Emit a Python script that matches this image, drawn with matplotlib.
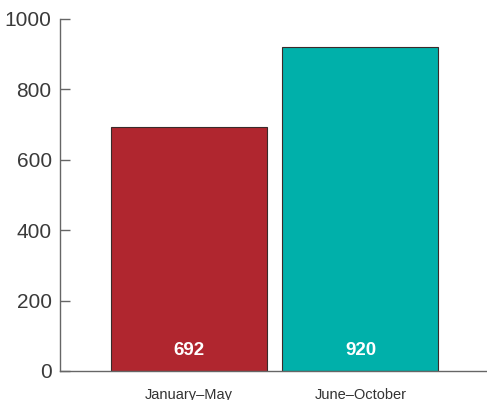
import matplotlib
matplotlib.use("Agg")
import matplotlib.pyplot as plt

categories = ["January–May", "June–October"]
values = [692, 920]
colors = ["#B0262F", "#00B0AA"]
yticks = [0, 200, 400, 600, 800, 1000]

plt.rcParams['font.family'] = ['Liberation Sans', 'DejaVu Sans']
fig = plt.figure(figsize=(4.87, 4.00), dpi=100)
ax = fig.add_axes([60/487, 29/400, 1 - 60/487, 352/400])

x = list(range(len(categories)))
bars = ax.bar(x, values, width=0.91, color=colors, edgecolor="#3a2a2a", linewidth=0.8, zorder=2)
for xi, v in zip(x, values):
    ax.text(xi, 57, f"{v}", ha="center", va="center", color="white",
            fontsize=13.5, fontweight="bold", zorder=3)

ax.set_xlim(-0.752, 1.738)
ax.set_ylim(0, 1000)
ax.set_yticks(yticks)
ax.set_yticklabels([str(t) for t in yticks], fontsize=15, color="#3a3a3a")
ax.tick_params(axis="y", direction="in", length=7, width=1, color="#666666", pad=6)
ax.set_xticks(x)
ax.set_xticklabels(categories, fontsize=10.5, color="#333333")
ax.tick_params(axis="x", length=0, pad=12)
for s in ["top", "right"]:
    ax.spines[s].set_visible(False)
ax.spines["left"].set_color("#666666")
ax.spines["bottom"].set_color("#666666")
ax.spines["left"].set_linewidth(1)
ax.spines["bottom"].set_linewidth(1)

fig.savefig("out.png", dpi=100)
